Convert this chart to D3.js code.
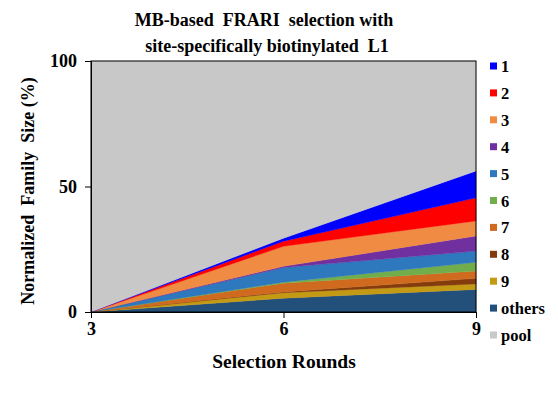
<!DOCTYPE html>
<html>
<head>
<meta charset="utf-8">
<script src="https://cdn.jsdelivr.net/npm/d3@7"></script>
<style>
  body { margin: 0; background: #fff; }
  svg text { font-family: "Liberation Serif", "Times New Roman", serif; font-weight: bold; fill: #000; white-space: pre; }
</style>
</head>
<body>
<div id="chart"></div>
<script>
// rounds on the x axis
var rounds = [3, 6, 9];
// family names, stacked from bottom to top (pool fills the rest to 100%)
var families = ["others", "9", "8", "7", "6", "5", "4", "3", "2", "1"];
// family sizes (%) per round, same order as families
var sizes = {
  "others": [0, 5.5, 9.0],
  "9":      [0, 2.2, 2.2],
  "8":      [0, 0.3, 2.2],
  "7":      [0, 3.5, 2.9],
  "6":      [0, 0.4, 3.5],
  "5":      [0, 5.8, 4.5],
  "4":      [0, 0.5, 6.0],
  "3":      [0, 8.0, 6.0],
  "2":      [0, 2.0, 9.2],
  "1":      [0, 1.2, 10.7]
};
var legendOrder = ["1", "2", "3", "4", "5", "6", "7", "8", "9", "others", "pool"];
var yTicks = [0, 50, 100];

var colors = {
  "1": "#0000ff", "2": "#ff0000", "3": "#f08b43", "4": "#7030a0",
  "5": "#2e78bd", "6": "#72ad4c", "7": "#cf6a1f", "8": "#843c0c",
  "9": "#c49a14", "others": "#234f7b", "pool": "#c8c8c8"
};

var W = 558, H = 393;
var m = {left: 91, right: 82, top: 61, bottom: 81};

var svg = d3.select("#chart").append("svg")
  .attr("width", W).attr("height", H);

var x = d3.scaleLinear().domain([3, 9]).range([m.left, W - m.right]);
var y = d3.scaleLinear().domain([0, 100]).range([H - m.bottom, m.top]);

// build table for the stack, pool is whatever is left up to 100
var table = rounds.map(function(r, i) {
  var row = {round: r};
  var sum = 0;
  families.forEach(function(f) { row[f] = sizes[f][i]; sum += sizes[f][i]; });
  row.pool = 100 - sum;
  return row;
});

var keys = families.concat(["pool"]);
var series = d3.stack().keys(keys)(table);

var area = d3.area()
  .x(function(d) { return x(d.data.round); })
  .y0(function(d) { return y(d[0]); })
  .y1(function(d) { return y(d[1]); });

svg.append("g").selectAll("path")
  .data(series)
  .enter().append("path")
  .attr("d", area)
  .attr("fill", function(d) { return colors[d.key]; })
  .attr("stroke", function(d) { return colors[d.key]; })
  .attr("stroke-width", 0.4);

// frame round the plot
svg.append("rect")
  .attr("x", m.left).attr("y", m.top)
  .attr("width", W - m.right - m.left)
  .attr("height", H - m.bottom - m.top)
  .attr("fill", "none").attr("stroke", "#000").attr("stroke-width", 1);

// axes
var yAxis = svg.append("g")
  .attr("transform", "translate(" + m.left + ",0)")
  .call(d3.axisLeft(y).tickValues(yTicks).tickFormat(d3.format("d")).tickSize(6).tickPadding(8));
var xAxis = svg.append("g")
  .attr("transform", "translate(0," + (H - m.bottom) + ")")
  .call(d3.axisBottom(x).tickValues(rounds).tickFormat(d3.format("d")).tickSize(6).tickPadding(4));
[yAxis, xAxis].forEach(function(a) {
  a.attr("font-family", null).attr("font-size", null);
  a.select(".domain").attr("stroke", "#000");
  a.selectAll(".tick line").attr("stroke", "#000");
  a.selectAll("text").style("font-size", "18px");
});

// title
svg.append("text").attr("x", 264).attr("y", 26).attr("text-anchor", "middle")
  .style("font-size", "18px").text("MB-based  FRARI  selection with");
svg.append("text").attr("x", 267).attr("y", 52).attr("text-anchor", "middle")
  .style("font-size", "18px").text("site-specifically biotinylated  L1");

// axis titles
svg.append("text").attr("x", 284).attr("y", 368).attr("text-anchor", "middle")
  .style("font-size", "19.5px").text("Selection Rounds");
svg.append("text")
  .attr("transform", "translate(34,191) rotate(-90)")
  .attr("text-anchor", "middle")
  .style("font-size", "18px").text("Normalized  Family  Size (%)");

// legend
var leg = svg.append("g").selectAll("g")
  .data(legendOrder).enter().append("g")
  .attr("transform", function(d, i) { return "translate(490," + (66 + i * 26.9) + ")"; });
leg.append("rect")
  .attr("x", 0).attr("y", -3.5).attr("width", 7).attr("height", 7)
  .attr("fill", function(d) { return colors[d]; });
leg.append("text")
  .attr("x", 11).attr("y", 6)
  .style("font-size", "16.5px")
  .text(function(d) { return d; });
</script>
</body>
</html>
